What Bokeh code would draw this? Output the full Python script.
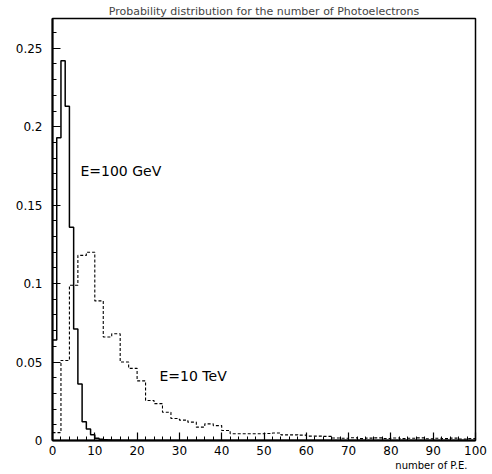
import numpy as np
from bokeh.plotting import figure
from bokeh.models import Label, FixedTicker, Range1d, Title
from bokeh.embed import file_html
from bokeh.resources import INLINE

# ---- data ----
# E = 100 GeV : bins of width 1 from 0 to 100
e100_values = [0.064, 0.193, 0.242, 0.213, 0.136, 0.071, 0.036, 0.012, 0.0074, 0.0036,
               0.0015, 0.0008, 0.0005, 0.0003, 0.0002, 0.0001] + [0.0] * 84
e100_bin_width = 1

# E = 10 TeV : bins of width 2 from 0 to 100
e10_values = [0.005, 0.051, 0.099, 0.118, 0.120, 0.089, 0.066, 0.068, 0.050, 0.046,
              0.038, 0.0255, 0.0235, 0.018, 0.014, 0.013, 0.0117, 0.0085, 0.0106, 0.0095,
              0.0064, 0.0043, 0.0043, 0.0043, 0.0043, 0.0045, 0.0048, 0.0036, 0.0036, 0.0034,
              0.0028, 0.0028, 0.0026, 0.0016, 0.0014, 0.0018, 0.0012, 0.0015, 0.0017, 0.0013,
              0.0016, 0.0012, 0.0014, 0.0017, 0.0011, 0.0014, 0.0012, 0.0015, 0.0010, 0.0013]
e10_bin_width = 2

x_ticks = [0, 10, 20, 30, 40, 50, 60, 70, 80, 90, 100]
y_ticks = [0, 0.05, 0.1, 0.15, 0.2, 0.25]
y_tick_labels = ["0", "0.05", "0.1", "0.15", "0.2", "0.25"]

title_text = "Probability distribution for the number of Photoelectrons"
x_label = "number of P.E."
label_100 = "E=100 GeV"
label_10 = "E=10 TeV"

FONT = "DejaVu Sans"

p = figure(width=492, height=474, x_range=Range1d(0, 100), y_range=Range1d(0, 0.269),
           output_backend="svg", toolbar_location=None,
           min_border_left=52, min_border_right=17, min_border_top=18, min_border_bottom=34)

p.title.text = title_text
p.title.align = "center"
p.title.text_font = FONT
p.title.text_font_style = "normal"
p.title.text_font_size = "11px"
p.title.standoff = 2

p.xgrid.visible = False
p.ygrid.visible = False
p.outline_line_color = "black"
p.outline_line_width = 1.5
p.background_fill_color = "white"
p.border_fill_color = "white"

def step_xy(values, width):
    edges = np.arange(len(values) + 1) * width
    ys = list(values) + [values[-1]]
    return edges, ys

x1, y1 = step_xy(e100_values, e100_bin_width)
x2, y2 = step_xy(e10_values, e10_bin_width)

p.step(x1, y1, mode="after", line_color="black", line_width=1.5)
p.step(x2, y2, mode="after", line_color="black", line_width=1.1, line_dash="3 2")

# axes
p.xaxis.ticker = FixedTicker(ticks=x_ticks, minor_ticks=list(np.arange(0, 101, 2)))
p.yaxis.ticker = FixedTicker(ticks=y_ticks, minor_ticks=list(np.round(np.arange(0, 0.27, 0.01), 2)))
p.yaxis.major_label_overrides = {t: l for t, l in zip(y_ticks, y_tick_labels)}
for ax in (p.xaxis[0], p.yaxis[0]):
    ax.axis_line_width = 2
    ax.axis_line_color = "black"
    ax.major_tick_in = 8
    ax.major_tick_out = 0
    ax.minor_tick_in = 4
    ax.minor_tick_out = 0
    ax.major_tick_line_color = "black"
    ax.minor_tick_line_color = "black"
    ax.major_tick_line_width = 1.2
    ax.minor_tick_line_width = 1
    ax.major_label_text_font = FONT
    ax.major_label_text_font_size = "12px"
    ax.major_label_text_color = "black"
p.xaxis.major_label_standoff = 5
p.yaxis.major_label_standoff = 10

xlab = Title(text=x_label, align="right", text_font=FONT, text_font_style="normal",
             text_font_size="10px", text_color="black", standoff=0, offset=8)
p.add_layout(xlab, "below")

p.add_layout(Label(x=6.6, y=0.1717, text=label_100, text_align="left", text_baseline="middle",
                   text_font=FONT, text_font_size="14px", text_color="black"))
p.add_layout(Label(x=25.3, y=0.0408, text=label_10, text_align="left", text_baseline="middle",
                   text_font=FONT, text_font_size="14px", text_color="black"))

open("out.html", "w").write(file_html(p, INLINE))
